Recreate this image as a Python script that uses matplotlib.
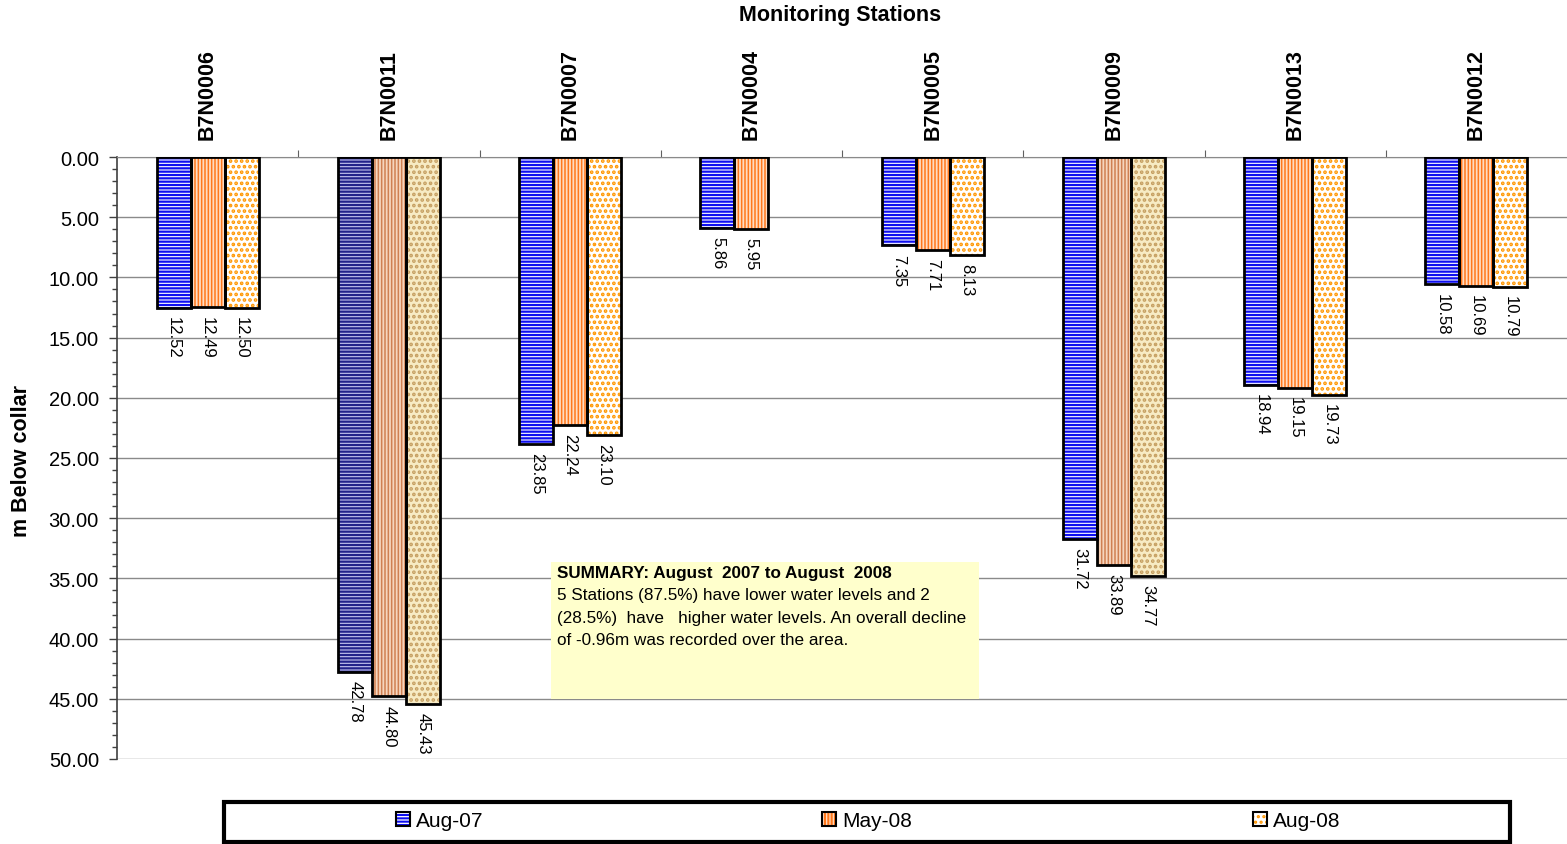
import numpy as np
import matplotlib
matplotlib.use("Agg")
import matplotlib.pyplot as plt
from matplotlib.patches import Patch, Rectangle
from matplotlib.ticker import MultipleLocator, FixedLocator, NullFormatter

plt.rcParams["font.family"] = ["Liberation Sans", "DejaVu Sans"]
plt.rcParams["hatch.linewidth"] = 1.5

# Depth to water (m below collar) per monitoring station
stations = ["B7N0006", "B7N0011", "B7N0007", "B7N0004",
            "B7N0005", "B7N0009", "B7N0013", "B7N0012"]
series_names = ["Aug-07", "May-08", "Aug-08"]
aug07 = [12.52, 42.78, 23.85, 5.86, 7.35, 31.72, 18.94, 10.58]
may08 = [12.49, 44.80, 22.24, 5.95, 7.71, 33.89, 19.15, 10.69]
aug08 = [12.50, 45.43, 23.10, np.nan, 8.13, 34.77, 19.73, 10.79]
series = [aug07, may08, aug08]

y_ticks = [0, 5, 10, 15, 20, 25, 30, 35, 40, 45, 50]

# Fill styles: (background, hatch colour, hatch, hatch width), plus a softer variant
styles = [
    ("white", "#0E0EF0", "-----", 1.6),
    ("#FFDCC2", "#FF781C", "|||||", 1.1),
    ("white", "#FF9600", "...", 1.8),
]
soft_styles = [
    ("#C4C4EE", "#22228A", "-----", 1.6),
    ("#F6D6BE", "#CF8052", "|||||", 1.1),
    ("#F7EBC4", "#C59E60", "...", 1.8),
]
soft_bars = {(1, 0), (1, 1), (1, 2), (5, 1), (5, 2)}

fig = plt.figure(figsize=(15.67, 8.45), dpi=100)
ax = fig.add_axes([117 / 1567, 1 - 760 / 845, 1450 / 1567, 602 / 845])

x = np.arange(len(stations))
width = 0.1875
offsets = [-width, 0.0, width]

for s, vals in enumerate(series):
    faces, hcols = [], []
    for i in range(len(stations)):
        st = soft_styles[s] if (i, s) in soft_bars else styles[s]
        faces.append(st[0])
        hcols.append(st[1])
    bars = ax.bar(x + offsets[s], vals, width, color=faces, edgecolor=hcols,
                  hatch=styles[s][2], linewidth=0, zorder=2)
    for b in bars:
        if hasattr(b, "set_hatch_linewidth"):
            b.set_hatch_linewidth(styles[s][3])
    ax.bar(x + offsets[s], vals, width, fill=False, edgecolor="black",
           linewidth=2, zorder=3)
    for xi, v in zip(x + offsets[s], vals):
        if np.isnan(v):
            continue
        ax.annotate(f"{v:.2f}", xy=(xi, v), xytext=(0, -6),
                    textcoords="offset points", rotation=-90,
                    ha="center", va="top", fontsize=12, zorder=4)

ax.set_xlim(-0.5, len(stations) - 0.5)
ax.set_ylim(50, 0)

# y axis
ax.yaxis.set_major_locator(FixedLocator(y_ticks))
ax.yaxis.set_minor_locator(MultipleLocator(1))
ax.set_yticklabels([f"{t:.2f}" for t in y_ticks])
ax.tick_params(axis="y", which="major", length=6, width=1, color="#404040",
               labelsize=14.5, pad=7)
ax.tick_params(axis="y", which="minor", length=3.5, width=1, color="#404040")
ax.yaxis.grid(True, which="major", color="#8a8a8a", linewidth=1, zorder=0)
ax.set_axisbelow(True)

# x axis on top: separators at boundaries, station names at centres
ax.xaxis.tick_top()
ax.xaxis.set_major_locator(FixedLocator(np.arange(0.5, len(stations) - 0.5, 1)))
ax.xaxis.set_major_formatter(NullFormatter())
ax.xaxis.set_minor_locator(FixedLocator(x))
ax.set_xticklabels(stations, minor=True, rotation=90, fontsize=15.5,
                   fontweight="bold")
ax.tick_params(axis="x", which="major", length=5, color="#606060", top=True)
ax.tick_params(axis="x", which="minor", length=0, pad=13, top=True)

for side in ["right", "bottom"]:
    ax.spines[side].set_visible(False)
ax.spines["top"].set_color("#8a8a8a")
ax.spines["left"].set_color("#404040")
ax.spines["left"].set_linewidth(1.2)

fig.text(840 / 1567, 1 - 15 / 845, "Monitoring Stations", ha="center",
         va="center", fontsize=15.5, fontweight="bold")
fig.text(22 / 1567, 1 - 461 / 845, "m Below collar", ha="center",
         va="center", rotation=90, fontsize=15.5, fontweight="bold")

# Summary note
ax.add_patch(Rectangle((0.2993, 0.0997), 0.2952, 0.2275,
                       transform=ax.transAxes, facecolor="#FFFFCC",
                       edgecolor="none", zorder=5))
ax.text(0.3034, 0.3225, "SUMMARY: August  2007 to August  2008",
        transform=ax.transAxes, ha="left", va="top", fontsize=12.3,
        fontweight="bold", zorder=6)
ax.text(0.3034, 0.2850,
        "5 Stations (87.5%) have lower water levels and 2\n"
        "(28.5%)  have   higher water levels. An overall decline\n"
        "of -0.96m was recorded over the area.",
        transform=ax.transAxes, ha="left", va="top", fontsize=12.3,
        linespacing=1.62, zorder=6)

# Legend
fig.patches.append(Rectangle((224 / 1567, 1 - 843 / 845), 1286 / 1567,
                             40 / 845, transform=fig.transFigure,
                             fill=False, edgecolor="black", linewidth=3))
centres = [440 / 1567, 867 / 1567, 1297 / 1567]
for s, name in enumerate(series_names):
    bg, hc, ht, hw = styles[s]
    hatched = Patch(facecolor=bg, edgecolor=hc, hatch=ht, linewidth=0)
    if hasattr(hatched, "set_hatch_linewidth"):
        hatched.set_hatch_linewidth(hw)
    h = (hatched, Patch(fill=False, edgecolor="black", linewidth=1.5))
    fig.legend([h], [name], loc="center",
               bbox_to_anchor=(centres[s], 1 - 822 / 845),
               frameon=False, fontsize=15, handlelength=0.65,
               handleheight=0.65, handletextpad=0.3, borderpad=0)

fig.savefig("out.png", dpi=100)
